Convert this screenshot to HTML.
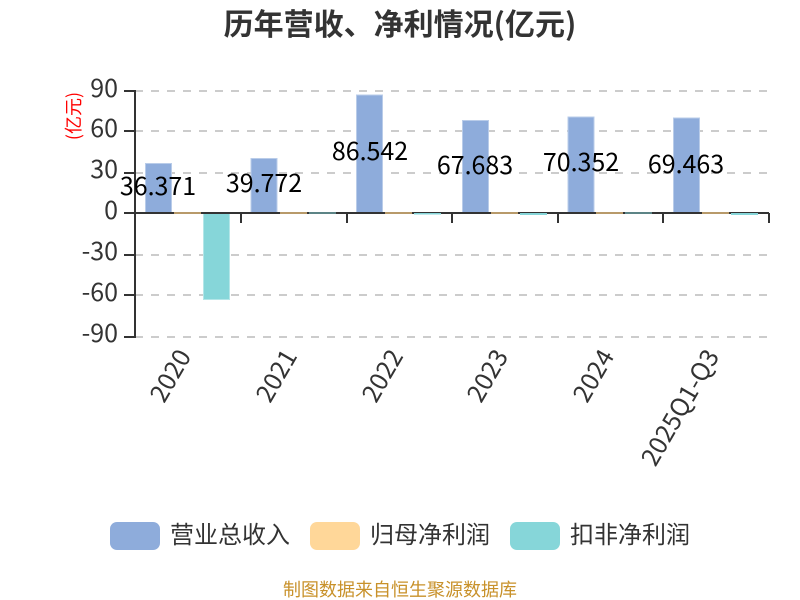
<!DOCTYPE html>
<html><head><meta charset="utf-8"><style>
html,body{margin:0;padding:0;background:#fff}
svg{display:block}
text{font-family:"Noto Sans CJK SC",sans-serif}
.y{font-size:25px;fill:#333;text-anchor:end}
.x{font-size:25px;fill:#333;text-anchor:end}
.v{font-size:25px;fill:#000;text-anchor:middle}
.l{font-size:24px;fill:#333}
</style></head><body>
<svg width="800" height="600" viewBox="0 0 800 600" xmlns="http://www.w3.org/2000/svg">
<rect width="800" height="600" fill="#fff"/>
<text x="400" y="35" font-size="30" font-weight="700" fill="#333" text-anchor="middle">历年营收、净利情况(亿元)</text>
<g stroke="#ccc" stroke-width="2" stroke-dasharray="8 8" fill="none">
<path d="M135 91H769M135 131H769M135 173H769M135 255H769M135 295H769M135 337H769"/>
</g>
<g fill="#8eacdb" stroke="#b9cce9">
<rect x="145.500" y="163.500" width="26" height="49"/>
<rect x="251" y="158.500" width="26" height="54"/>
<rect x="356.500" y="95" width="26" height="118"/>
<rect x="462.500" y="120.500" width="26" height="92"/>
<rect x="568" y="117" width="26" height="96"/>
<rect x="673.500" y="118" width="26" height="95"/>
</g>
<rect x="203.500" y="213" width="26" height="86.500" fill="#86d6d9" stroke="#b4e6e8"/>
<g stroke="#333" stroke-width="2" fill="none">
<path d="M135 90V338M124 91H135M124 131H135M124 173H135M124 213H769M124 255H135M124 295H135M124 337H135"/>
<path d="M241 213V223M347 213V223M452 213V223M558 213V223M663 213V223M769 213V223"/>
</g>
<g fill="#b89a6a">
<rect x="174" y="212" width="27" height="2"/><rect x="280" y="212" width="27" height="2"/><rect x="385" y="212" width="27" height="2"/><rect x="491" y="212" width="27" height="2"/><rect x="596" y="212" width="27" height="2"/><rect x="702" y="212" width="27" height="2"/>
</g>
<g fill="#86d6d9">
<rect x="309" y="212.500" width="27" height="1"/><rect x="414" y="213" width="27" height="1.500"/><rect x="520" y="213" width="27" height="2"/><rect x="625" y="212.500" width="27" height="1"/><rect x="731" y="213" width="27" height="2"/>
</g>
<text class="y" x="118" y="97">90</text>
<text class="y" x="118" y="137">60</text>
<text class="y" x="118" y="178">30</text>
<text class="y" x="118" y="219">0</text>
<text class="y" x="118" y="260">-30</text>
<text class="y" x="118" y="301">-60</text>
<text class="y" x="118" y="342">-90</text>
<text transform="translate(80,116) rotate(-90)" font-size="18" fill="#f00" text-anchor="middle">(亿元)</text>
<text class="v" x="158" y="195">36.371</text>
<text class="v" x="264" y="192">39.772</text>
<text class="v" x="370" y="160">86.542</text>
<text class="v" x="475" y="174">67.683</text>
<text class="v" x="581" y="171">70.352</text>
<text class="v" x="686" y="173">69.463</text>
<text class="x" transform="translate(185,352) rotate(-60)" x="0" y="8">2020</text>
<text class="x" transform="translate(291,352) rotate(-60)" x="0" y="8">2021</text>
<text class="x" transform="translate(397,352) rotate(-60)" x="0" y="8">2022</text>
<text class="x" transform="translate(502,352) rotate(-60)" x="0" y="8">2023</text>
<text class="x" transform="translate(608,352) rotate(-60)" x="0" y="8">2024</text>
<text class="x" transform="translate(713,352) rotate(-60)" x="0" y="8">2025Q1-Q3</text>
<rect x="110" y="522" width="50" height="28" rx="7" fill="#8eacdb"/>
<text class="l" x="170" y="543">营业总收入</text>
<rect x="310" y="522" width="50" height="28" rx="7" fill="#ffd799"/>
<text class="l" x="370" y="543">归母净利润</text>
<rect x="510" y="522" width="50" height="28" rx="7" fill="#86d6d9"/>
<text class="l" x="570" y="543">扣非净利润</text>
<text x="400" y="596" font-size="18" fill="#c8912a" text-anchor="middle">制图数据来自恒生聚源数据库</text>
</svg>
</body></html>
